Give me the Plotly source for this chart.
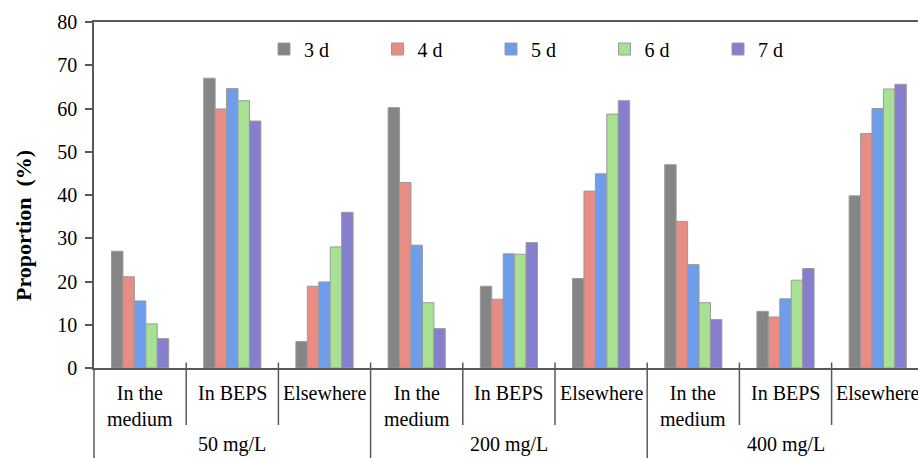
import plotly.graph_objects as go

# ---- data ----
groups = ["50 mg/L", "200 mg/L", "400 mg/L"]
subcats = ["In the<br>medium", "In BEPS", "Elsewhere"]
series_names = ["3 d", "4 d", "5 d", "6 d", "7 d"]

d3 = [27.0, 67.0, 6.1, 60.2, 18.9, 20.7, 47.0, 13.1, 39.8]
d4 = [21.1, 59.9, 18.9, 42.9, 15.9, 40.9, 33.9, 11.8, 54.2]
d5 = [15.5, 64.6, 19.9, 28.4, 26.4, 44.9, 23.9, 16.0, 60.0]
d6 = [10.2, 61.8, 28.0, 15.1, 26.3, 58.7, 15.1, 20.3, 64.5]
d7 = [6.8, 57.1, 36.0, 9.1, 29.0, 61.8, 11.2, 23.0, 65.6]
series_values = [d3, d4, d5, d6, d7]

colors = ["#858585", "#e98c83", "#6e9deb", "#a8e094", "#857fcd"]

FONT = "Liberation Serif, Times New Roman, serif"
AXC = "#595959"

n_cat = len(groups) * len(subcats)
xpos = list(range(n_cat))

# plot geometry (px)
L, T, B = 94, 22, 90
W, H = 918, 458
ph = H - T - B
cat_px = 92.2
pw = W - L
x_max = -0.5 + pw / cat_px

def py(px_y):
    return (H - B - px_y) / ph

def pxx(px_x):
    return (px_x - L) / pw

fig = go.Figure()
legend_defs = {}
for i, (name, vals, col) in enumerate(zip(series_names, series_values, colors)):
    lg = "legend" if i == 0 else f"legend{i + 1}"
    fig.add_trace(go.Bar(
        x=xpos, y=vals, name=name, legend=lg,
        marker=dict(color=col, line=dict(color="#9a9a9a", width=1)),
    ))
    legend_defs[lg] = dict(
        x=pxx(264 + 113.5 * i), y=py(49), xanchor="left", yanchor="middle",
        orientation="h", bgcolor="rgba(0,0,0,0)", itemclick=False,
        font=dict(family=FONT, size=20, color="black"),
    )

shapes = []
for k in range(1, n_cat):
    outer = (k % len(subcats) == 0)
    shapes.append(dict(type="line", xref="x", yref="paper",
                       x0=k - 0.5, x1=k - 0.5,
                       y0=py(362.5), y1=py(458 if outer else 425),
                       line=dict(color=AXC, width=1.5)))
shapes.append(dict(type="line", xref="paper", yref="paper", x0=0, x1=0,
                   y0=py(458), y1=0, line=dict(color=AXC, width=1.5)))

annotations = []
for gi, g in enumerate(groups):
    for si, s in enumerate(subcats):
        annotations.append(dict(
            x=gi * len(subcats) + si, y=py(380), xref="x", yref="paper",
            text=s, showarrow=False, yanchor="top", xanchor="center",
            font=dict(family=FONT, size=20, color="black"),
        ))
    annotations.append(dict(
        x=gi * len(subcats) + 1, y=py(445), xref="x", yref="paper",
        text=g, showarrow=False, yanchor="middle", xanchor="center",
        font=dict(family=FONT, size=20, color="black"),
    ))
annotations.append(dict(
    x=pxx(23), y=py(226), xref="paper", yref="paper",
    text="<b>Proportion  (%)</b>", showarrow=False, textangle=-90,
    xanchor="center", yanchor="middle",
    font=dict(family=FONT, size=22, color="black"),
))

fig.update_layout(
    width=W, height=H,
    margin=dict(l=L, r=0, t=T, b=B),
    paper_bgcolor="white", plot_bgcolor="white",
    barmode="group", bargap=0.38, bargroupgap=0,
    font=dict(family=FONT, size=20, color="black"),
    showlegend=True,
    shapes=shapes, annotations=annotations,
    xaxis=dict(range=[-0.5, x_max], showticklabels=False, ticks="",
               showgrid=False, zeroline=False, showline=True, mirror=True,
               linecolor=AXC, linewidth=1.5),
    yaxis=dict(range=[0, 80], dtick=10, ticks="outside", ticklen=7, tickwidth=1.5,
               tickcolor=AXC, showgrid=False, zeroline=False, showline=True,
               linecolor=AXC, linewidth=1.5, ticklabelstandoff=4,
               tickfont=dict(family=FONT, size=20, color="black")),
)
fig.update_layout(**legend_defs)

fig.write_html(
    "out.html",
    config={"displayModeBar": False},
    post_script="document.body.style.margin='0';document.body.style.overflow='hidden';",
)
